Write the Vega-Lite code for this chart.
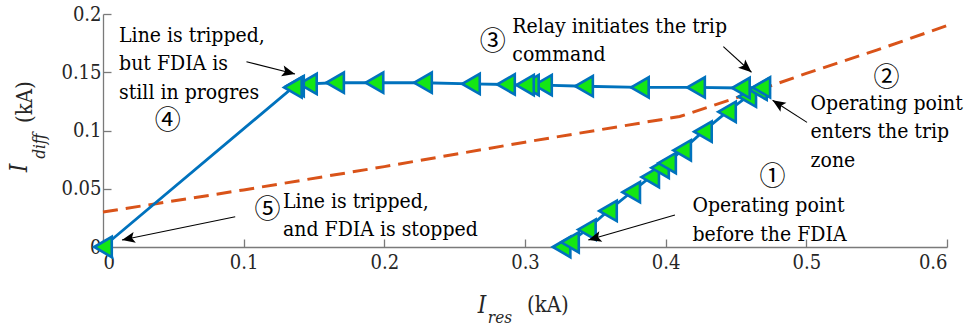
{
  "$schema": "https://vega.github.io/schema/vega-lite/v6.json",
  "width": 844,
  "height": 233,
  "autosize": {"type": "none"},
  "padding": {"left": 103, "top": 14, "right": 20, "bottom": 82},
  "background": "white",
  "config": {
    "view": {"stroke": null},
    "font": "DejaVu Serif Condensed",
    "axis": {
      "domainColor": "#7a7a7a",
      "domainWidth": 1.3,
      "tickColor": "#7a7a7a",
      "tickWidth": 1.3,
      "tickSize": -8,
      "labelFont": "DejaVu Serif Condensed",
      "labelFontSize": 20,
      "labelColor": "#262626",
      "grid": false,
      "title": null
    }
  },
  "datasets": {
    "trip": [
      {"ires": 0.0, "idiff": 0.030},
      {"ires": 0.1, "idiff": 0.049},
      {"ires": 0.2, "idiff": 0.069},
      {"ires": 0.3, "idiff": 0.090},
      {"ires": 0.4, "idiff": 0.110},
      {"ires": 0.41, "idiff": 0.112},
      {"ires": 0.45, "idiff": 0.128},
      {"ires": 0.5, "idiff": 0.149},
      {"ires": 0.55, "idiff": 0.169},
      {"ires": 0.6, "idiff": 0.190}
    ],
    "traj": [
      {"i": 1, "ires": 0.326, "idiff": 0.000},
      {"i": 2, "ires": 0.332, "idiff": 0.004},
      {"i": 3, "ires": 0.344, "idiff": 0.015},
      {"i": 4, "ires": 0.359, "idiff": 0.031},
      {"i": 5, "ires": 0.3755, "idiff": 0.047},
      {"i": 6, "ires": 0.389, "idiff": 0.060},
      {"i": 7, "ires": 0.396, "idiff": 0.068},
      {"i": 8, "ires": 0.401, "idiff": 0.072},
      {"i": 9, "ires": 0.4117, "idiff": 0.083},
      {"i": 10, "ires": 0.4265, "idiff": 0.099},
      {"i": 11, "ires": 0.4436, "idiff": 0.116},
      {"i": 12, "ires": 0.458, "idiff": 0.129},
      {"i": 13, "ires": 0.4656, "idiff": 0.135},
      {"i": 14, "ires": 0.468, "idiff": 0.137},
      {"i": 15, "ires": 0.4535, "idiff": 0.1365},
      {"i": 16, "ires": 0.4216, "idiff": 0.137},
      {"i": 17, "ires": 0.3817, "idiff": 0.137},
      {"i": 18, "ires": 0.342, "idiff": 0.138},
      {"i": 19, "ires": 0.3128, "idiff": 0.139},
      {"i": 20, "ires": 0.3035, "idiff": 0.139},
      {"i": 21, "ires": 0.300, "idiff": 0.139},
      {"i": 22, "ires": 0.2865, "idiff": 0.1395},
      {"i": 23, "ires": 0.2616, "idiff": 0.140},
      {"i": 24, "ires": 0.2275, "idiff": 0.141},
      {"i": 25, "ires": 0.193, "idiff": 0.141},
      {"i": 26, "ires": 0.165, "idiff": 0.141},
      {"i": 27, "ires": 0.1457, "idiff": 0.140},
      {"i": 28, "ires": 0.1365, "idiff": 0.138},
      {"i": 29, "ires": 0.135, "idiff": 0.137},
      {"i": 30, "ires": 0.000, "idiff": 0.000}
    ],
    "arrows": [
      {"x": 0.102, "y": 0.159, "x2": 0.1365, "y2": 0.1485, "dir": 104},
      {"x": 0.094, "y": 0.026, "x2": 0.0135, "y2": 0.006, "dir": 258},
      {"x": 0.441, "y": 0.172, "x2": 0.461, "y2": 0.150, "dir": 131},
      {"x": 0.5005, "y": 0.107, "x2": 0.476, "y2": 0.126, "dir": 303},
      {"x": 0.4066, "y": 0.0275, "x2": 0.345, "y2": 0.006, "dir": 254}
    ],
    "notes": [
      {"x": 0.0114, "y": 0.176, "text": "Line is tripped,\nbut FDIA is\nstill in progres"},
      {"x": 0.128, "y": 0.0335, "text": "Line is tripped,\nand FDIA is stopped"},
      {"x": 0.291, "y": 0.184, "text": "Relay initiates the trip\ncommand"},
      {"x": 0.503, "y": 0.1176, "text": "Operating point\nenters the trip\n zone"},
      {"x": 0.419, "y": 0.030, "text": "Operating point\nbefore the FDIA"}
    ],
    "steps": [
      {"x": 0.046, "y": 0.108, "text": "④"},
      {"x": 0.117, "y": 0.032, "text": "⑤"},
      {"x": 0.277, "y": 0.176, "text": "③"},
      {"x": 0.557, "y": 0.145, "text": "②"},
      {"x": 0.476, "y": 0.060, "text": "①"}
    ]
  },
  "layer": [
    {
      "data": {"name": "trip"},
      "mark": {"type": "line", "stroke": "#D95319", "strokeWidth": 3, "strokeDash": [15, 8]},
      "encoding": {
        "x": {"field": "ires", "type": "quantitative", "scale": {"domain": [0, 0.6], "nice": false},
          "axis": {"values": [0, 0.1, 0.2, 0.3, 0.4, 0.5, 0.6], "format": ".2~f", "labelPadding": 13}},
        "y": {"field": "idiff", "type": "quantitative", "scale": {"domain": [0, 0.2], "nice": false},
          "axis": {"values": [0, 0.05, 0.1, 0.15, 0.2], "format": ".2~f", "labelPadding": 10}}
      }
    },
    {
      "data": {"name": "traj"},
      "mark": {"type": "line", "stroke": "#0072BD", "strokeWidth": 2.8},
      "encoding": {
        "x": {"field": "ires", "type": "quantitative"},
        "y": {"field": "idiff", "type": "quantitative"},
        "order": {"field": "i"}
      }
    },
    {
      "data": {"name": "traj"},
      "mark": {"type": "point", "shape": "triangle-left", "filled": true, "fill": "#14e614", "stroke": "#0072BD", "strokeWidth": 2.6, "size": 410, "opacity": 1},
      "encoding": {
        "x": {"field": "ires", "type": "quantitative"},
        "y": {"field": "idiff", "type": "quantitative"}
      }
    },
    {
      "data": {"name": "arrows"},
      "mark": {"type": "rule", "stroke": "#000000", "strokeWidth": 1.1},
      "encoding": {
        "x": {"field": "x", "type": "quantitative"},
        "y": {"field": "y", "type": "quantitative"},
        "x2": {"field": "x2"},
        "y2": {"field": "y2"}
      }
    },
    {
      "data": {"name": "arrows"},
      "mark": {"type": "point", "shape": "M0,0L0.42,1L0,0.78L-0.42,1Z", "filled": true, "fill": "#000000", "strokeWidth": 0, "size": 676, "opacity": 1},
      "encoding": {
        "x": {"field": "x2", "type": "quantitative"},
        "y": {"field": "y2", "type": "quantitative"},
        "angle": {"field": "dir", "type": "quantitative", "scale": null}
      }
    },
    {
      "data": {"name": "notes"},
      "mark": {"type": "text", "align": "left", "baseline": "alphabetic", "font": "DejaVu Serif Condensed", "fontSize": 21, "lineBreak": "\n", "lineHeight": 28.5, "color": "#000000"},
      "encoding": {
        "x": {"field": "x", "type": "quantitative"},
        "y": {"field": "y", "type": "quantitative"},
        "text": {"field": "text"}
      }
    },
    {
      "data": {"name": "steps"},
      "mark": {"type": "text", "align": "center", "baseline": "middle", "font": "Noto Sans CJK JP", "fontSize": 26, "color": "#000000"},
      "encoding": {
        "x": {"field": "x", "type": "quantitative"},
        "y": {"field": "y", "type": "quantitative"},
        "text": {"field": "text"}
      }
    },
    {
      "data": {"values": [
        {"x": 0.2694, "y": -0.0567, "t": "I", "a": 0, "fs": 24},
        {"x": 0.2822, "y": -0.0652, "t": "res", "a": 0, "fs": 17},
        {"x": -0.054, "y": 0.0678, "t": "I", "a": 270, "fs": 24},
        {"x": -0.0412, "y": 0.0866, "t": "diff", "a": 270, "fs": 17}
      ]},
      "mark": {"type": "text", "baseline": "alphabetic", "align": "center", "font": "DejaVu Serif Condensed", "fontStyle": "italic", "color": "#262626"},
      "encoding": {
        "x": {"field": "x", "type": "quantitative"},
        "y": {"field": "y", "type": "quantitative"},
        "text": {"field": "t"},
        "angle": {"field": "a", "type": "quantitative", "scale": null},
        "size": {"field": "fs", "type": "quantitative", "scale": null}
      }
    },
    {
      "data": {"values": [
        {"x": 0.3014, "y": -0.0558, "t": "(kA)", "a": 0},
        {"x": -0.0505, "y": 0.1064, "t": "(kA)", "a": 270}
      ]},
      "mark": {"type": "text", "baseline": "alphabetic", "align": "left", "font": "DejaVu Serif Condensed", "fontSize": 22, "color": "#262626"},
      "encoding": {
        "x": {"field": "x", "type": "quantitative"},
        "y": {"field": "y", "type": "quantitative"},
        "text": {"field": "t"},
        "angle": {"field": "a", "type": "quantitative", "scale": null}
      }
    }
  ]
}
